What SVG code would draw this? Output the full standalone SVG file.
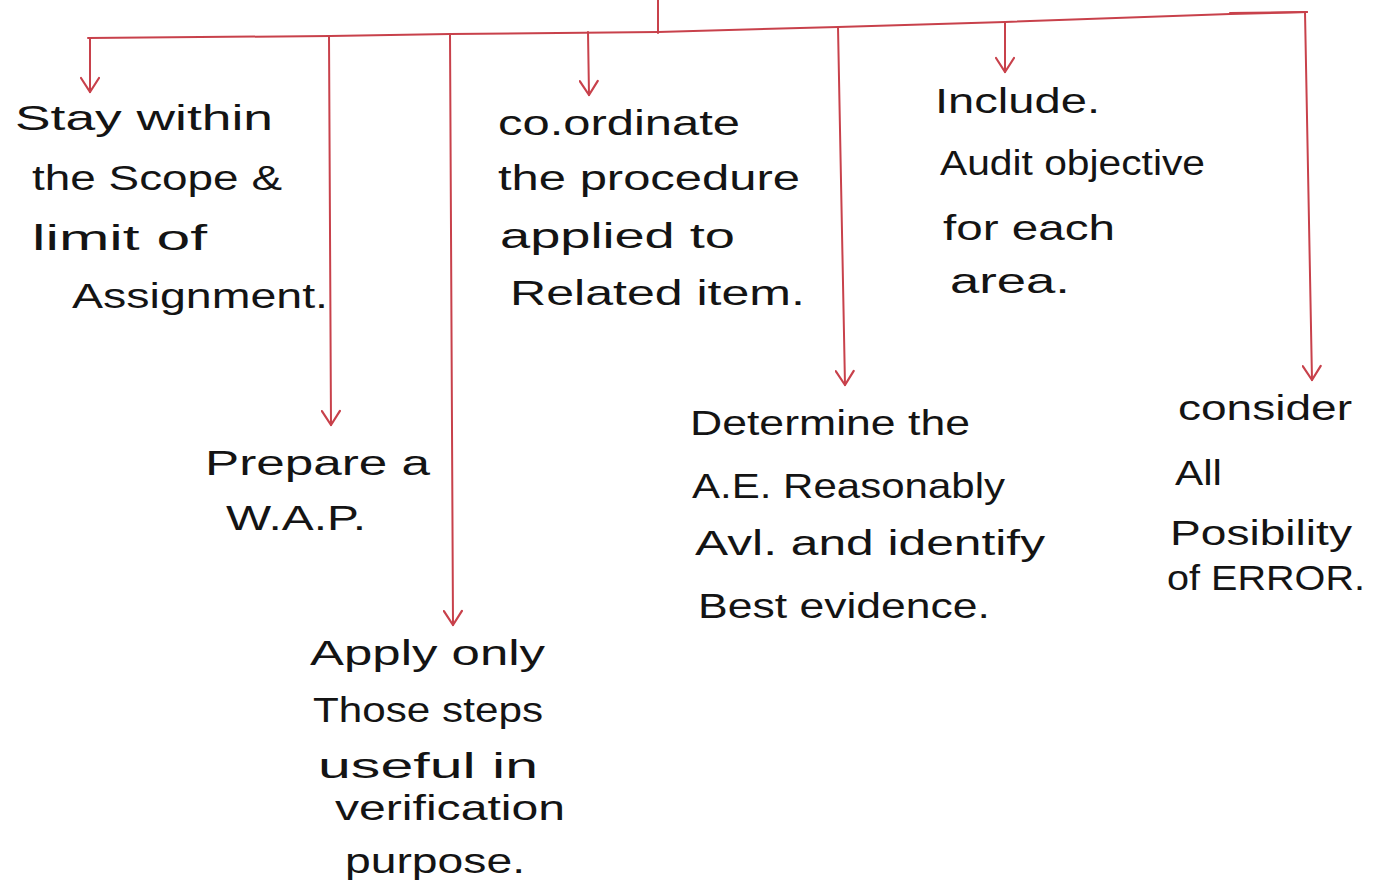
<svg xmlns="http://www.w3.org/2000/svg" width="1391" height="888" viewBox="0 0 1391 888">
<defs>
<style>
.ln{stroke:#c8414b;stroke-width:2;fill:none;stroke-linecap:round}
.t{font-family:"Liberation Sans","DejaVu Sans",sans-serif;font-size:35px;fill:#141414}
</style>
<marker id="v" viewBox="0 0 20 20" refX="17" refY="10" markerWidth="20" markerHeight="20" markerUnits="userSpaceOnUse" orient="auto">
<path d="M3 1 L17 10 L3 19" fill="none" stroke="#c8414b" stroke-width="2.2" stroke-linecap="round" stroke-linejoin="round"/>
</marker>
</defs>
<rect width="1391" height="888" fill="#ffffff"/>
<g id="connectors">
<path class="ln" d="M658 0 L658 33"/>
<path class="ln" d="M88 38 L330 36 L450 34 L658 32 L838 27 L1005 22 L1230 14 L1307 12"/>
<path class="ln" d="M1230 13 L1307 12" stroke-width="3.5"/>
<path class="ln" d="M90 38 L90 92" marker-end="url(#v)"/>
<path class="ln" d="M329 36 L331 425" marker-end="url(#v)"/>
<path class="ln" d="M450 34 L453 625" marker-end="url(#v)"/>
<path class="ln" d="M588 32 L589 95" marker-end="url(#v)"/>
<path class="ln" d="M838 27 L845 385" marker-end="url(#v)"/>
<path class="ln" d="M1005 22 L1005 72" marker-end="url(#v)"/>
<path class="ln" d="M1305 12 L1312 380" marker-end="url(#v)"/>
</g>
<g id="n1">
<text class="t" x="15" y="130" textLength="258" lengthAdjust="spacingAndGlyphs">Stay within</text>
<text class="t" x="32" y="190" textLength="250" lengthAdjust="spacingAndGlyphs">the Scope &amp;</text>
<text class="t" x="32" y="250" textLength="175" lengthAdjust="spacingAndGlyphs">limit of</text>
<text class="t" x="72" y="308" textLength="256" lengthAdjust="spacingAndGlyphs">Assignment.</text>
</g>
<g id="n2">
<text class="t" x="205" y="475" textLength="225" lengthAdjust="spacingAndGlyphs">Prepare a</text>
<text class="t" x="226" y="530" textLength="140" lengthAdjust="spacingAndGlyphs">W.A.P.</text>
</g>
<g id="n3">
<text class="t" x="310" y="665" textLength="235" lengthAdjust="spacingAndGlyphs">Apply only</text>
<text class="t" x="313" y="722" textLength="230" lengthAdjust="spacingAndGlyphs">Those steps</text>
<text class="t" x="318" y="778" textLength="220" lengthAdjust="spacingAndGlyphs">useful in</text>
<text class="t" x="335" y="820" textLength="230" lengthAdjust="spacingAndGlyphs">verification</text>
<text class="t" x="345" y="873" textLength="180" lengthAdjust="spacingAndGlyphs">purpose.</text>
</g>
<g id="n4">
<text class="t" x="498" y="135" textLength="242" lengthAdjust="spacingAndGlyphs">co.ordinate</text>
<text class="t" x="498" y="190" textLength="302" lengthAdjust="spacingAndGlyphs">the procedure</text>
<text class="t" x="500" y="248" textLength="235" lengthAdjust="spacingAndGlyphs">applied to</text>
<text class="t" x="510" y="305" textLength="295" lengthAdjust="spacingAndGlyphs">Related item.</text>
</g>
<g id="n5">
<text class="t" x="690" y="435" textLength="280" lengthAdjust="spacingAndGlyphs">Determine the</text>
<text class="t" x="692" y="498" textLength="313" lengthAdjust="spacingAndGlyphs">A.E. Reasonably</text>
<text class="t" x="695" y="555" textLength="350" lengthAdjust="spacingAndGlyphs">Avl. and identify</text>
<text class="t" x="698" y="618" textLength="292" lengthAdjust="spacingAndGlyphs">Best evidence.</text>
</g>
<g id="n6">
<text class="t" x="935" y="113" textLength="165" lengthAdjust="spacingAndGlyphs">Include.</text>
<text class="t" x="940" y="175" textLength="265" lengthAdjust="spacingAndGlyphs">Audit objective</text>
<text class="t" x="943" y="240" textLength="172" lengthAdjust="spacingAndGlyphs">for each</text>
<text class="t" x="950" y="293" textLength="120" lengthAdjust="spacingAndGlyphs">area.</text>
</g>
<g id="n7">
<text class="t" x="1178" y="420" textLength="174" lengthAdjust="spacingAndGlyphs">consider</text>
<text class="t" x="1175" y="485" textLength="47" lengthAdjust="spacingAndGlyphs">All</text>
<text class="t" x="1170" y="545" textLength="182" lengthAdjust="spacingAndGlyphs">Posibility</text>
<text class="t" x="1167" y="590" textLength="198" lengthAdjust="spacingAndGlyphs">of ERROR.</text>
</g>
</svg>
